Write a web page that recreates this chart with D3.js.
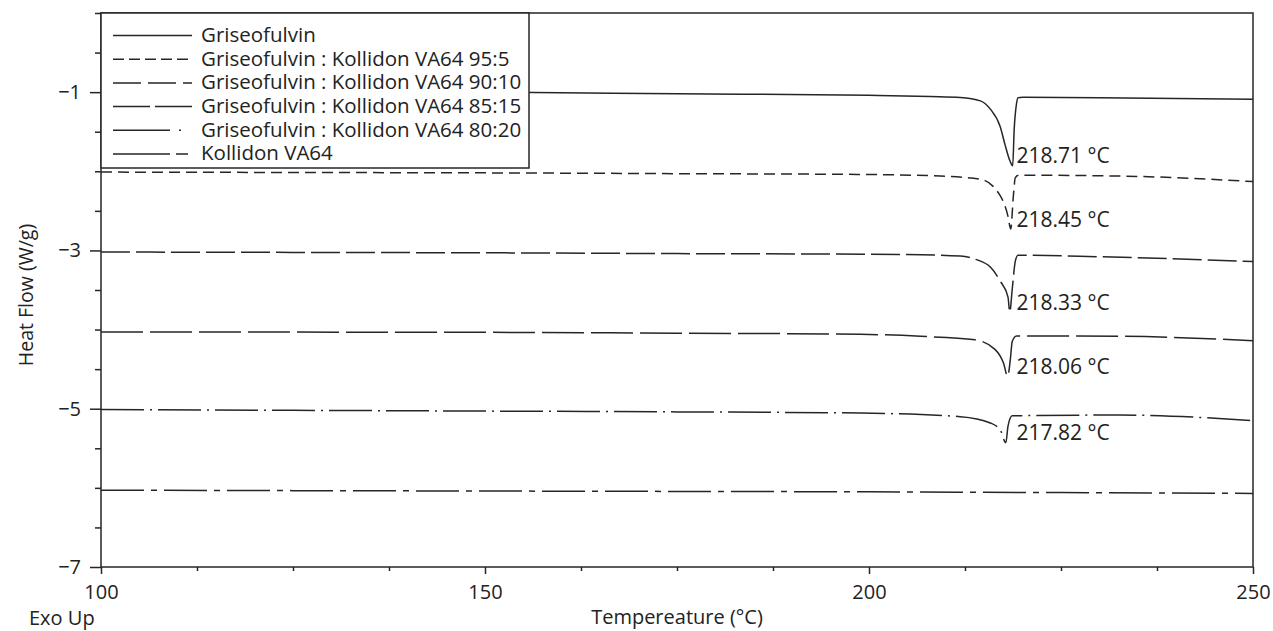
<!DOCTYPE html>
<html>
<head>
<meta charset="utf-8">
<script src="https://cdn.jsdelivr.net/npm/d3@7"></script>
<style>
  body { margin: 0; background: #fff; }
  svg text { font-family: "Open Sans", "Noto Sans", sans-serif; fill: #222; }
</style>
</head>
<body>
<div id="chart"></div>
<script>
// DSC thermograms, values
const seriesNames = [
  'Griseofulvin',
  'Griseofulvin : Kollidon VA64 95:5',
  'Griseofulvin : Kollidon VA64 90:10',
  'Griseofulvin : Kollidon VA64 85:15',
  'Griseofulvin : Kollidon VA64 80:20',
  'Kollidon VA64'
];

const tempGrise = [100, 125, 150, 175, 200, 208, 211.9, 214.5, 215.8, 217.1, 217.7, 218.4, 218.71, 218.9, 219.2, 219.4, 220, 230, 240, 250];
const flowGrise = [-0.99, -0.995, -1.0, -1.02, -1.04, -1.055, -1.067, -1.11, -1.215, -1.44, -1.66, -1.88, -1.93, -1.48, -1.15, -1.07, -1.065, -1.07, -1.08, -1.09];

const temp95 = [100, 125, 150, 175, 198.9, 209.3, 214.5, 217.1, 218.1, 218.45, 218.8, 219.05, 219.5, 232.7, 250];
const flow95 = [-2.01, -2.015, -2.02, -2.03, -2.04, -2.06, -2.10, -2.31, -2.57, -2.73, -2.31, -2.08, -2.05, -2.06, -2.13];

const temp90 = [100, 125, 150, 175, 204.1, 211.9, 213.8, 215.8, 217.1, 218.1, 218.33, 218.65, 219.05, 219.4, 230, 250];
const flow90 = [-3.02, -3.025, -3.03, -3.04, -3.05, -3.07, -3.11, -3.21, -3.39, -3.59, -3.78, -3.49, -3.135, -3.06, -3.08, -3.14];

const temp85 = [100, 125, 150, 175, 198.9, 206.7, 213.8, 216.4, 217.5, 218.06, 218.4, 218.65, 219.2, 232.7, 250];
const flow85 = [-4.03, -4.032, -4.035, -4.045, -4.06, -4.085, -4.13, -4.25, -4.42, -4.59, -4.38, -4.15, -4.08, -4.085, -4.14];

const temp80 = [100, 125, 150, 175, 198.9, 211.9, 215.8, 217.1, 217.82, 218.1, 218.65, 232.7, 250];
const flow80 = [-5.01, -5.02, -5.03, -5.04, -5.055, -5.10, -5.18, -5.27, -5.43, -5.22, -5.09, -5.08, -5.15];

const tempKoll = [100, 125, 150, 175, 200, 225, 250];
const flowKoll = [-6.03, -6.035, -6.04, -6.045, -6.05, -6.06, -6.07];

// melting peak annotations
const peakLabels = ['218.71 °C', '218.45 °C', '218.33 °C', '218.06 °C', '217.82 °C'];
const peakFlows = [-1.93, -2.73, -3.78, -4.59, -5.43];

const xTicks = d3.range(100, 250.01, 12.5);
const xLabelTicks = [100, 150, 200, 250];
const yTicks = d3.range(-7, 0.01, 0.5);
const yLabelTicks = [-7, -5, -3, -1];

const allTemps = [tempGrise, temp95, temp90, temp85, temp80, tempKoll];
const allFlows = [flowGrise, flow95, flow90, flow85, flow80, flowKoll];

// dash styles: plot lines and legend swatches
const plotDash = [null, '11,6', '29,6', '42,7', '43,6,2,6', '43,7,6,7'];
const legendDash = [null, '11,5', '28,7', '37,5', '57,9,2,20', '57,6,12,20'];

const width = 1273, height = 631;
const margin = { top: 13, right: 20, bottom: 64, left: 101 };
const iw = width - margin.left - margin.right;
const ih = height - margin.top - margin.bottom;
const ink = '#262626';

const svg = d3.select('#chart').append('svg')
  .attr('width', width)
  .attr('height', height);

const g = svg.append('g')
  .attr('transform', `translate(${margin.left},${margin.top})`);

const x = d3.scaleLinear().domain([100, 250]).range([0, iw]);
const y = d3.scaleLinear().domain([-7, 0]).range([ih, 0]);

const line = d3.line()
  .x(d => x(d[0]))
  .y(d => y(d[1]))
  .curve(d3.curveMonotoneX);

// curves
allTemps.forEach((temps, i) => {
  const pts = temps.map((t, j) => [t, allFlows[i][j]]);
  g.append('path')
    .datum(pts)
    .attr('fill', 'none')
    .attr('stroke', ink)
    .attr('stroke-width', 1.5)
    .attr('stroke-dasharray', plotDash[i])
    .attr('d', line);
});

// peak labels
peakLabels.forEach((lab, i) => {
  g.append('text')
    .attr('x', x(219.2))
    .attr('y', y(peakFlows[i]) - 8)
    .attr('dominant-baseline', 'middle')
    .style('font-size', '21px')
    .text(lab);
});

// frame
g.append('rect')
  .attr('width', iw)
  .attr('height', ih)
  .attr('fill', 'none')
  .attr('stroke', ink)
  .attr('stroke-width', 1.5);

// x axis
const xAxis = g.append('g')
  .attr('transform', `translate(0,${ih})`)
  .call(d3.axisBottom(x)
    .tickValues(xTicks)
    .tickSizeOuter(0)
    .tickFormat(d => xLabelTicks.includes(d) ? d3.format('d')(d) : ''));
xAxis.select('.domain').remove();
xAxis.selectAll('.tick line')
  .attr('stroke', ink)
  .attr('stroke-width', 1.5)
  .attr('y2', d => xLabelTicks.includes(d) ? 7 : 4);
xAxis.selectAll('.tick text')
  .attr('y', 18)
  .style('font-size', '20px')
  .attr('fill', '#222');

// y axis
const yAxis = g.append('g')
  .call(d3.axisLeft(y)
    .tickValues(yTicks)
    .tickSizeOuter(0)
    .tickFormat(d => yLabelTicks.includes(d) ? d3.format('d')(d) : ''));
yAxis.select('.domain').remove();
yAxis.selectAll('.tick line')
  .attr('stroke', ink)
  .attr('stroke-width', 1.5)
  .attr('x2', d => yLabelTicks.includes(d) ? -11 : -6);
yAxis.selectAll('.tick text')
  .attr('x', -20)
  .style('font-size', '20px')
  .attr('fill', '#222');

// axis titles
g.append('text')
  .attr('x', iw / 2)
  .attr('y', 624 - margin.top)
  .attr('text-anchor', 'middle')
  .style('font-size', '20px')
  .text('Tempereature (°C)');

g.append('text')
  .attr('transform', 'rotate(-90)')
  .attr('x', -(295 - margin.top))
  .attr('y', -68)
  .attr('text-anchor', 'middle')
  .style('font-size', '19.5px')
  .text('Heat Flow (W/g)');

svg.append('text')
  .attr('x', 29)
  .attr('y', 625)
  .style('font-size', '20px')
  .text('Exo Up');

// legend
const legend = g.append('g');
legend.append('rect')
  .attr('x', 0)
  .attr('y', 0)
  .attr('width', 428)
  .attr('height', 155)
  .attr('fill', '#fff')
  .attr('stroke', ink)
  .attr('stroke-width', 1.5);

const rows = legend.selectAll('.legend-item')
  .data(seriesNames)
  .enter()
  .append('g')
  .attr('class', 'legend-item')
  .attr('transform', (d, i) => `translate(0, ${22.5 + i * 23.7})`);

rows.append('line')
  .attr('x1', 12)
  .attr('x2', 91)
  .attr('stroke', ink)
  .attr('stroke-width', 1.5)
  .attr('stroke-dasharray', (d, i) => legendDash[i]);

rows.append('text')
  .attr('x', 100)
  .attr('y', 1)
  .attr('dominant-baseline', 'middle')
  .style('font-size', '20.5px')
  .text(d => d);
</script>
</body>
</html>
